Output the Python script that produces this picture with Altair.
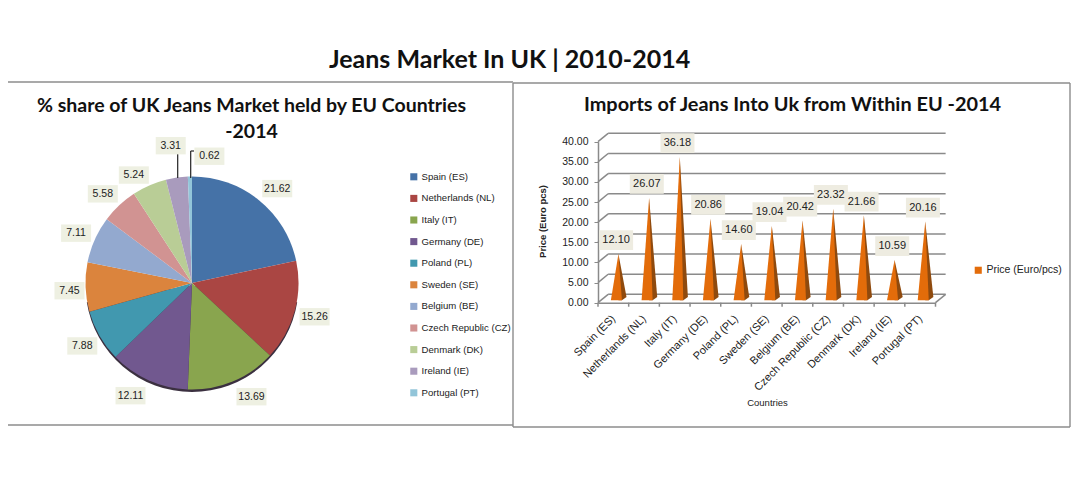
import math
import altair as alt
import pandas as pd

# ---- values ----
countries = ["Spain (ES)", "Netherlands (NL)", "Italy (IT)", "Germany (DE)", "Poland (PL)", "Sweden (SE)",
             "Belgium (BE)", "Czech Republic (CZ)", "Denmark (DK)", "Ireland (IE)", "Portugal (PT)"]
share = [21.62, 15.26, 13.69, 12.11, 7.88, 7.45, 7.11, 5.58, 5.24, 3.31, 0.62]
price = [12.10, 26.07, 36.18, 20.86, 14.60, 19.04, 20.42, 23.32, 21.66, 10.59, 20.16]
price_ticks = [0, 5, 10, 15, 20, 25, 30, 35, 40]
pie_colors = ["#4572A7", "#AA4643", "#89A54E", "#71588F", "#4198AF", "#DB843D",
              "#93A9CF", "#D19392", "#B9CD96", "#A99BBD", "#92C5D9"]

# ---- layout ----
W, H = 1063, 365
FONT = "Lato"
LFONT = "Liberation Sans"
CX, CY, R = 184, 213, 106.5
label_angle = [43, 106.7, 153, 208, 239, 265, 292, 314, 331, 351, 8]
label_dist = [125, 128, 131, 131, 128, 123, 125, 124, 120, 136, 125]
BOX = "M-1,-0.58H1V0.58H-1Z"
GRID = "#8a8a8a"
ORANGE, DARK = "#E36C0A", "#8F4A0E"
DX, DY = 0.33, 2.07   # depth of the 3-D floor, in axis units

px_x = alt.Scale(domain=[0, W], range=[0, W])
px_y = alt.Scale(domain=[0, H], range=[0, H])
X = lambda f: alt.X(f, type="quantitative", scale=px_x, axis=None)
Y = lambda f: alt.Y(f, type="quantitative", scale=px_y, axis=None)

# ---- left panel -----
pie_df = pd.DataFrame({"country": countries, "share": share, "idx": range(len(share))})
pie_lab = pd.DataFrame({
    "t": [f"{v:.2f}" for v in share],
    "x": [184 + d * math.sin(math.radians(a)) for a, d in zip(label_angle, label_dist)],
    "y": [210 - d * math.cos(math.radians(a)) for a, d in zip(label_angle, label_dist)],
})
frames = pd.DataFrame([
    dict(x=0, x2=505, y=12, y2=12), dict(x=0, x2=505, y=355, y2=355),
    dict(x=505, x2=505, y=13, y2=357), dict(x=505, x2=1062, y=13, y2=13),
    dict(x=505, x2=1062, y=357, y2=357), dict(x=1062, x2=1062, y=13, y2=357),
])
leaders = pd.DataFrame([
    dict(x=169.7, x2=169.7, y=84, y2=108), dict(x=182.7, x2=182.7, y=81, y2=108),
    dict(x=182.7, x2=186, y=81, y2=81),
])
left_titles = pd.DataFrame([
    dict(t="% share of UK Jeans Market held by EU Countries", x=243.5, y=35.5),
    dict(t="-2014", x=243.5, y=61.5),
])
right_titles = pd.DataFrame([
    dict(t="Imports of Jeans Into Uk from Within EU -2014", x=784.5, y=35),
])

rule = lambda df, c=GRID, w=1.5: alt.Chart(df).mark_rule(color=c, strokeWidth=w).encode(
    x=X("x"), x2="x2", y=Y("y"), y2="y2")

frame_l = rule(frames, "#8c8c8c", 1.4)
leader_l = rule(leaders, "#222222", 1.2)
title_a = alt.Chart(left_titles).mark_text(font=FONT, fontSize=19.5, fontWeight="bold", color="#111111").encode(
    x=X("x"), y=Y("y"), text="t:N")
title_b = alt.Chart(right_titles).mark_text(font=FONT, fontSize=19.9, fontWeight="bold", color="#111111").encode(
    x=X("x"), y=Y("y"), text="t:N")
shadow = alt.Chart(pd.DataFrame({"a": [1]})).mark_arc(outerRadius=R, color="#3b3040").encode(
    x=alt.value(CX), y=alt.value(CY + 2.5),
    theta=alt.value(math.pi * 0.55), theta2=alt.value(math.pi * 1.45))
pie = alt.Chart(pie_df).mark_arc(outerRadius=R).encode(
    x=alt.value(CX), y=alt.value(CY),
    theta=alt.Theta("share:Q", stack=True),
    order=alt.Order("idx:Q"),
    color=alt.Color("country:N", sort=countries,
                    scale=alt.Scale(domain=countries, range=pie_colors),
                    legend=alt.Legend(orient="none", legendX=401, legendY=102, title=None, symbolType="square",
                                      symbolSize=50, symbolStrokeWidth=0, labelFont=LFONT, labelFontSize=9.6,
                                      labelColor="#222222", rowPadding=10.6, labelOffset=3, labelLimit=140)))
box_l = alt.Chart(pie_lab).mark_point(shape=BOX, filled=True, fill="#EEF0E2", opacity=1, size=900, strokeWidth=0).encode(
    x=X("x"), y=Y("y"))
text_l = alt.Chart(pie_lab).mark_text(font=LFONT, fontSize=10.5, color="#222222").encode(
    x=X("x"), y=Y("y"), text="t:N")

# ---- right panel -----
x_s = alt.Scale(domain=[-0.5, 10.5], range=[590, 927.5], nice=False, zero=False)
y_s = alt.Scale(domain=[0, 40], range=[232.7, 71.7], nice=False)
xq = alt.X("x:Q", scale=x_s,
           axis=alt.Axis(orient="bottom", offset=232.7 - H, values=list(range(11)), ticks=False,
                         labelExpr="[" + ",".join(f"'{c}'" for c in countries) + "][datum.value]",
                         labelAngle=-45, labelAlign="right", labelBaseline="middle", labelPadding=14,
                         labelFont=LFONT, labelFontSize=11, labelColor="#222222", labelOverlap=False,
                         labelBound=False, labelFlush=False, domainColor=GRID, domainWidth=1.5, grid=False,
                         title="Countries", titleFont=LFONT, titleFontSize=9.5, titleFontWeight="normal",
                         titleColor="#222222", titleX=759, titleY=95))
yq = alt.Y("y:Q", scale=y_s,
           axis=alt.Axis(orient="left", offset=-590, values=price_ticks, format=".2f", tickSize=4,
                         tickColor=GRID, domainColor=GRID, domainWidth=1.5, labelFont=LFONT, labelFontSize=10.5,
                         labelColor="#222222", labelPadding=6, grid=False,
                         title="Price (Euro pcs)", titleFont=LFONT, titleFontSize=9.5, titleFontWeight="bold",
                         titleColor="#222222", titleX=-51, titleY=151))
xn = alt.X("x:Q", scale=x_s)
yn = alt.Y("y:Q", scale=y_s)

grid_df = pd.DataFrame(
    [dict(x=-0.5, x2=-0.5 + DX, y=v, y2=v + DY) for v in price_ticks] +
    [dict(x=-0.5 + DX, x2=10.5 + DX, y=v + DY, y2=v + DY) for v in price_ticks] +
    [dict(x=10.5, x2=10.5 + DX, y=0, y2=DY)] +
    [dict(x=i - 0.5, x2=i - 0.5, y=0, y2=-1) for i in range(12)]
)
grid = alt.Chart(grid_df).mark_rule(color=GRID, strokeWidth=1.5).encode(x=xq, x2="x2", y=yq, y2="y2")

front, side = [], []
for i, (c, v) in enumerate(zip(countries, price)):
    b, bb = 0.6, 1.4
    front += [dict(c=c, s="Price (Euro/pcs)", x=i - 0.08, y=b, y2=b), dict(c=c, s="Price (Euro/pcs)", x=i + 0.166, y=v, y2=b),
              dict(c=c, s="Price (Euro/pcs)", x=i + 0.28, y=b, y2=b)]
    side += [dict(c=c, x=i + 0.166, y=v, y2=b),
             dict(c=c, x=i + 0.28, y=v + (bb - v) * (0.28 - 0.166) / (0.43 - 0.166), y2=b),
             dict(c=c, x=i + 0.43, y=bb, y2=bb)]
side_l = alt.Chart(pd.DataFrame(side)).mark_area(color=DARK).encode(x=xn, y=yn, y2="y2:Q", detail="c:N")
front_l = alt.Chart(pd.DataFrame(front)).mark_area().encode(
    x=xn, y=yn, y2="y2:Q", detail="c:N",
    color=alt.Color("s:N", scale=alt.Scale(domain=["Price (Euro/pcs)"], range=[ORANGE]),
                    legend=alt.Legend(orient="none", legendX=965, legendY=195, title=None, symbolType="square",
                                      symbolSize=50, symbolStrokeWidth=0, labelFont=LFONT, labelFontSize=10.5,
                                      labelColor="#222222", labelOffset=3, labelLimit=140)))
bar_lab = pd.DataFrame({"x": [i + 0.09 for i in range(len(price))], "y": [v + 3.45 for v in price],
                        "t": [f"{v:.2f}" for v in price]})
box_r = alt.Chart(bar_lab).mark_point(shape=BOX, filled=True, fill="#EEECE1", opacity=1, size=1156, strokeWidth=0).encode(x=xn, y=yn)
text_r = alt.Chart(bar_lab).mark_text(font=LFONT, fontSize=11, color="#222222").encode(x=xn, y=yn, text="t:N")

left = alt.layer(frame_l, title_a, title_b, shadow, pie, leader_l, box_l, text_l)
right = alt.layer(grid, side_l, front_l, box_r, text_r)

chart = alt.layer(left, right).resolve_scale(x="independent", y="independent", color="independent").properties(
    width=W, height=H,
    padding={"left": 0, "right": 0, "top": 62, "bottom": 0},
    autosize=alt.AutoSizeParams(type="none"),
    title=alt.TitleParams("Jeans Market In UK | 2010-2014", font=FONT, fontSize=25, fontWeight="bold",
                          color="#111111", anchor="middle", dx=501.5 - W / 2, offset=-3),
).configure_view(stroke=None)

chart.save("out.html", embed_options={"renderer": "svg", "actions": False})
